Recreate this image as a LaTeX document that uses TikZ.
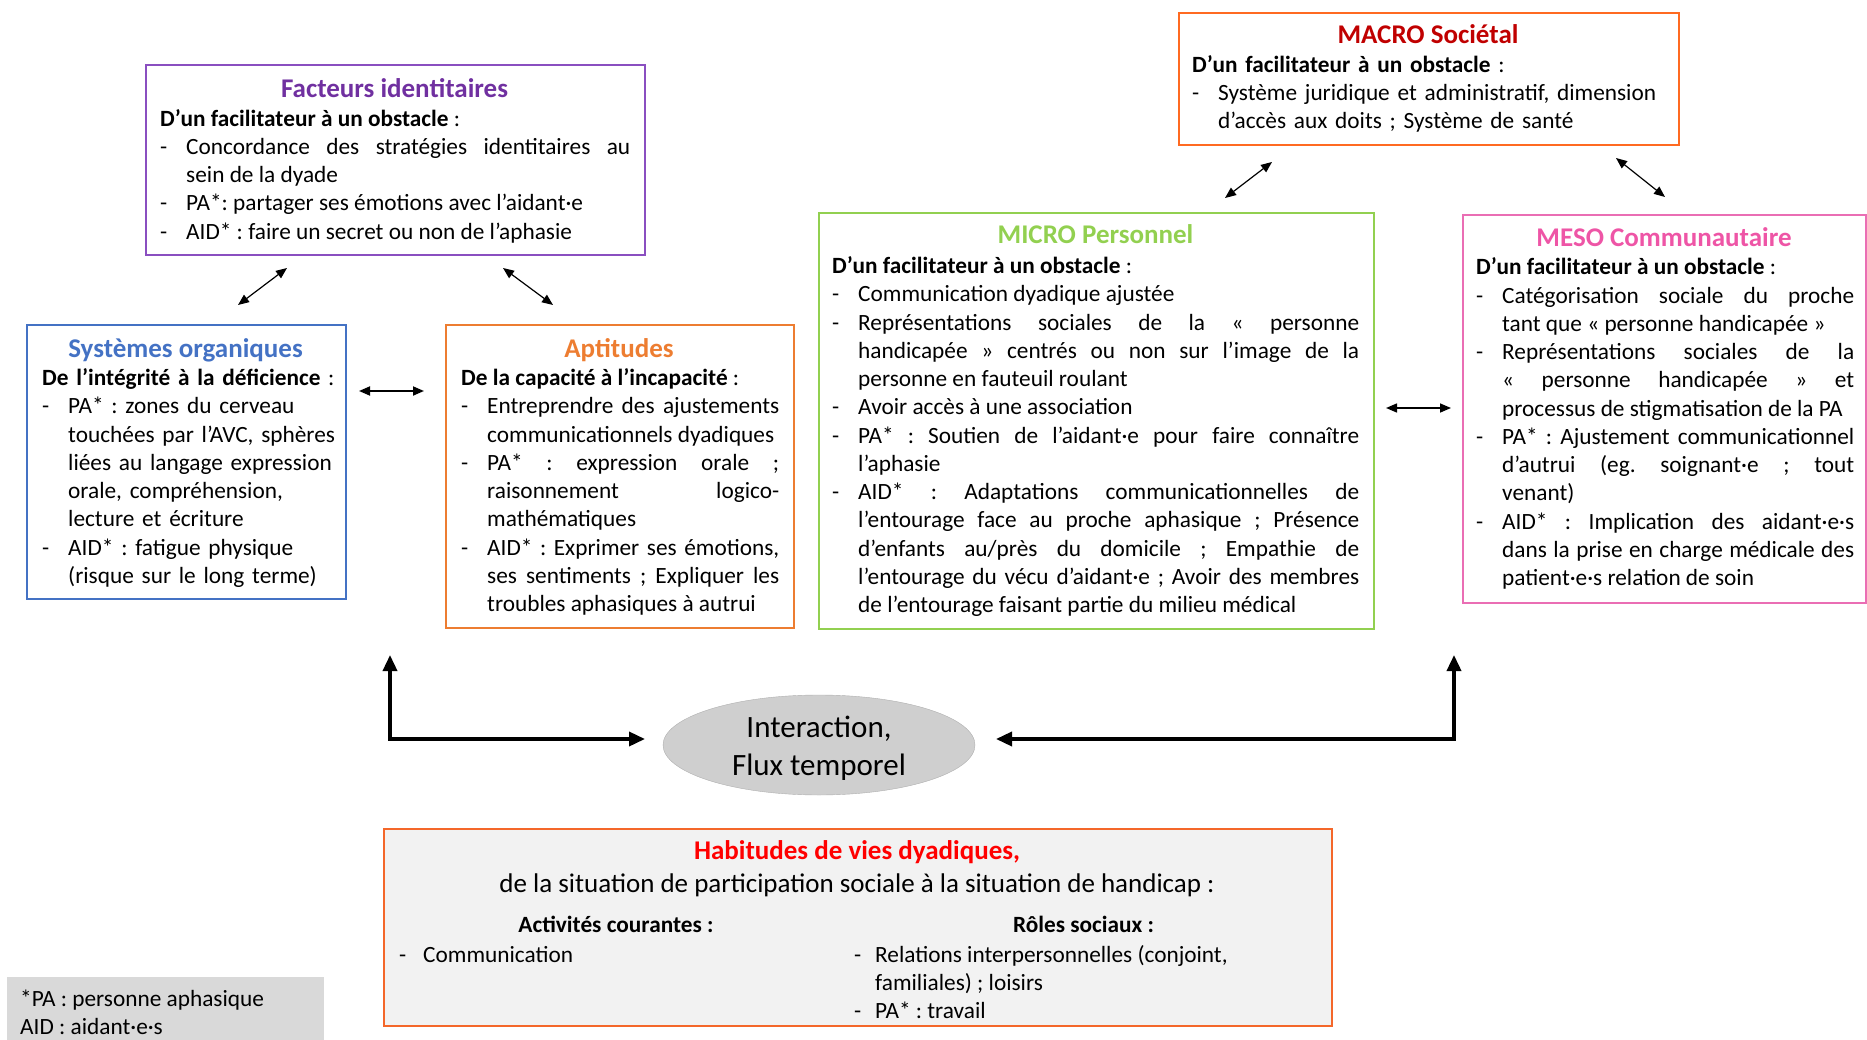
\documentclass[tikz,border=0pt]{standalone}
\usepackage{fontspec}
\setmainfont{Carlito}
\usetikzlibrary{arrows.meta,shapes.geometric}
\definecolor{cpurple}{HTML}{7030A0}
\definecolor{cpurpleb}{HTML}{8A4FC0}
\definecolor{cblue}{HTML}{4472C4}
\definecolor{corange}{HTML}{ED7D31}
\definecolor{cgreen}{HTML}{92D050}
\definecolor{cred}{HTML}{C00000}
\definecolor{cmacro}{HTML}{FF6A21}
\definecolor{cpink}{HTML}{EE55A6}
\definecolor{cpinkb}{HTML}{EA6EB4}
\definecolor{cbottom}{HTML}{F4672A}
\definecolor{cfill}{HTML}{F2F2F2}
\definecolor{clegend}{HTML}{D9D9D9}
\definecolor{cell}{HTML}{CFCFCF}
\definecolor{cellb}{HTML}{AFAFAF}
\definecolor{chab}{HTML}{FF0000}
\newcommand{\itm}[1]{\par\hangindent=26pt\hangafter=1\noindent\hbox to 26pt{-\hfil}#1}
\newcommand{\hdr}[1]{\noindent\textbf{#1} :}
\newcommand{\bodyfont}{\fontsize{23.3pt}{28.25pt}\selectfont}
\tolerance=10000
\hyphenpenalty=10000
\parskip=0pt
\frenchspacing
\tikzset{
  bx/.style={draw, line width=2pt, rectangle, inner sep=0pt, anchor=north west},
  ttl/.style={anchor=base, inner sep=0pt, font=\fontsize{27pt}{30pt}\selectfont\bfseries},
  bodytxt/.style={anchor=north west, inner sep=0pt, text width=#1, font=\bodyfont},
  ln/.style={anchor=base west, inner sep=0pt, font=\bodyfont},
  lnc/.style={anchor=base, inner sep=0pt, font=\bodyfont\bfseries},
  dbl/.style={{Triangle[length=11pt,width=9pt]}-{Triangle[length=11pt,width=9pt]}, line width=1.2pt},
  elb/.style={{Triangle[length=16pt,width=14pt]}-{Triangle[length=16pt,width=14pt]}, line width=3.5pt},
}
\begin{document}
\begin{tikzpicture}[x=1pt,y=-1pt]
\useasboundingbox (0,0) rectangle (1867,1040);

% ---------- boxes ----------
\node[bx, draw=cpurpleb, minimum width=499, minimum height=190] (fid) at (145,64) {};
\node[bx, draw=cblue, minimum width=319, minimum height=274] (sys) at (26,324) {};
\node[bx, draw=corange, minimum width=348, minimum height=303] (apt) at (445,324) {};
\node[bx, draw=cgreen, minimum width=555, minimum height=416] (mic) at (818,212) {};
\node[bx, draw=cmacro, minimum width=500, minimum height=132] (mac) at (1178,12) {};
\node[bx, draw=cpinkb, minimum width=403, minimum height=388] (mes) at (1462,214) {};
\node[bx, draw=cbottom, fill=cfill, minimum width=948, minimum height=197] (hab) at (383,828) {};
\node[anchor=north west, fill=clegend, minimum width=317, minimum height=63, inner sep=0pt] (leg) at (7,977) {};
\node[ellipse, draw=cellb, fill=cell, minimum width=312, minimum height=100, inner sep=0pt] (ell) at (819,745) {};
\node[inner sep=0pt, align=center, font=\fontsize{31pt}{38pt}\selectfont] (tell) at (819,748.5) {Interaction,\\Flux temporel};

% ---------- titles ----------
\node[ttl, text=cpurple] (tfid) at (394.5,97.5) {Facteurs identitaires};
\node[ttl, text=cblue] (tsys) at (185.5,357) {Systèmes organiques};
\node[ttl, text=corange] (tapt) at (619,357) {Aptitudes};
\node[ttl, text=cgreen] (tmic) at (1095.5,244) {MICRO Personnel};
\node[ttl, text=cred] (tmac) at (1428,44) {MACRO Sociétal};
\node[ttl, text=cpink] (tmes) at (1664,246.5) {MESO Communautaire};

% ---------- bodies ----------
\node[bodytxt=470, align=justify] (bfid) at (160,109) {%
\hdr{D’un facilitateur à un obstacle}
\itm{Concordance des stratégies identitaires au\linebreak sein de la dyade}
\itm{PA*: partager ses émotions avec l’aidant·e}
\itm{AID* : faire un secret ou non de l’aphasie}\par};

\node[bodytxt=300, align=left] (bsys) at (42,368.5) {%
\hdr{De l’intégrité à la déficience}
\itm{PA* : zones du cerveau\linebreak touchées par l’AVC, sphères\linebreak liées au langage expression\linebreak orale, compréhension,\linebreak lecture et écriture}
\itm{AID* : fatigue physique\linebreak (risque sur le long terme)}\par};

\node[bodytxt=318, align=justify] (bapt) at (461,368.5) {%
\hdr{De la capacité à l’incapacité}
\itm{Entreprendre des ajustements\linebreak communicationnels dyadiques}
\itm{PA* : expression orale ;\linebreak raisonnement logico-\linebreak mathématiques}
\itm{AID* : Exprimer ses émotions,\linebreak ses sentiments ; Expliquer les\linebreak troubles aphasiques à autrui}\par};

\node[bodytxt=527, align=justify] (bmic) at (832,256.5) {%
\hdr{D’un facilitateur à un obstacle}
\itm{Communication dyadique ajustée}
\itm{Représentations sociales de la « personne\linebreak handicapée » centrés ou non sur l’image de la\linebreak personne en fauteuil roulant}
\itm{Avoir accès à une association}
\itm{PA* : Soutien de l’aidant·e pour faire connaître\linebreak l’aphasie}
\itm{AID* : Adaptations communicationnelles de\linebreak l’entourage face au proche aphasique ; Présence\linebreak d’enfants au/près du domicile ; Empathie de\linebreak l’entourage du vécu d’aidant·e ; Avoir des membres\linebreak de l’entourage faisant partie du milieu médical}\par};

\node[bodytxt=470, align=left] (bmac) at (1192,55.3) {%
\hdr{D’un facilitateur à un obstacle}
\itm{Système juridique et administratif, dimension\linebreak d’accès aux doits ; Système de santé}\par};

\node[bodytxt=378, align=justify] (bmes) at (1476,257.7) {%
\hdr{D’un facilitateur à un obstacle}
\itm{Catégorisation sociale du proche\linebreak tant que « personne handicapée »}
\itm{Représentations sociales de la\linebreak « personne handicapée » et\linebreak processus de stigmatisation de la PA}
\itm{PA* : Ajustement communicationnel\linebreak d’autrui (eg. soignant·e ; tout\linebreak venant)}
\itm{AID* : Implication des aidant·e·s\linebreak dans la prise en charge médicale des\linebreak patient·e·s relation de soin}\par};

% ---------- bottom box ----------
\node[ttl, text=chab] (thab) at (857,859.5) {Habitudes de vies dyadiques,};
\node[anchor=base, inner sep=0pt, font=\fontsize{27pt}{30pt}\selectfont] (shab) at (857,892.5)
  {de la situation de participation sociale à la situation de handicap :};
\node[lnc] (hact) at (616,932) {Activités courantes :};
\node[lnc] (hrol) at (1083.5,932) {Rôles sociaux :};
\node[ln] (d1) at (399,962) {-};
\node[ln] (l1) at (423,962) {Communication};
\node[ln] (d2) at (854,962) {-};
\node[ln] (l2) at (875,962) {Relations interpersonnelles (conjoint,};
\node[ln] (l3) at (875,990) {familiales) ; loisirs};
\node[ln] (d3) at (854,1018) {-};
\node[ln] (l4) at (875,1018) {PA* : travail};

% ---------- legend ----------
\node[ln] (leg1) at (20,1006) {*PA : personne aphasique};
\node[ln] (leg2) at (20,1034) {AID : aidant·e·s};

% ---------- connectors ----------
\coordinate (a1s) at (238,305); \coordinate (a1e) at (287,268);
\coordinate (a2s) at (503,268); \coordinate (a2e) at (553,305);
\coordinate (a3s) at (359,391); \coordinate (a3e) at (424,391);
\coordinate (a4s) at (1225,198); \coordinate (a4e) at (1272,162);
\coordinate (a5s) at (1616,158); \coordinate (a5e) at (1665,197);
\coordinate (a6s) at (1386,408); \coordinate (a6e) at (1451,408);
\draw[dbl] (a1s) -- (a1e);
\draw[dbl] (a2s) -- (a2e);
\draw[dbl, line width=1.8pt] (a3s) -- (a3e);
\draw[dbl] (a4s) -- (a4e);
\draw[dbl] (a5s) -- (a5e);
\draw[dbl, line width=1.5pt] (a6s) -- (a6e);

\coordinate (eLtop) at (390,655); \coordinate (eLend) at (645,739);
\coordinate (eRtop) at (1454,655); \coordinate (eRend) at (996,739);
\draw[elb] (eLtop) |- (eLend);
\draw[elb] (eRtop) |- (eRend);
\end{tikzpicture}
\end{document}
